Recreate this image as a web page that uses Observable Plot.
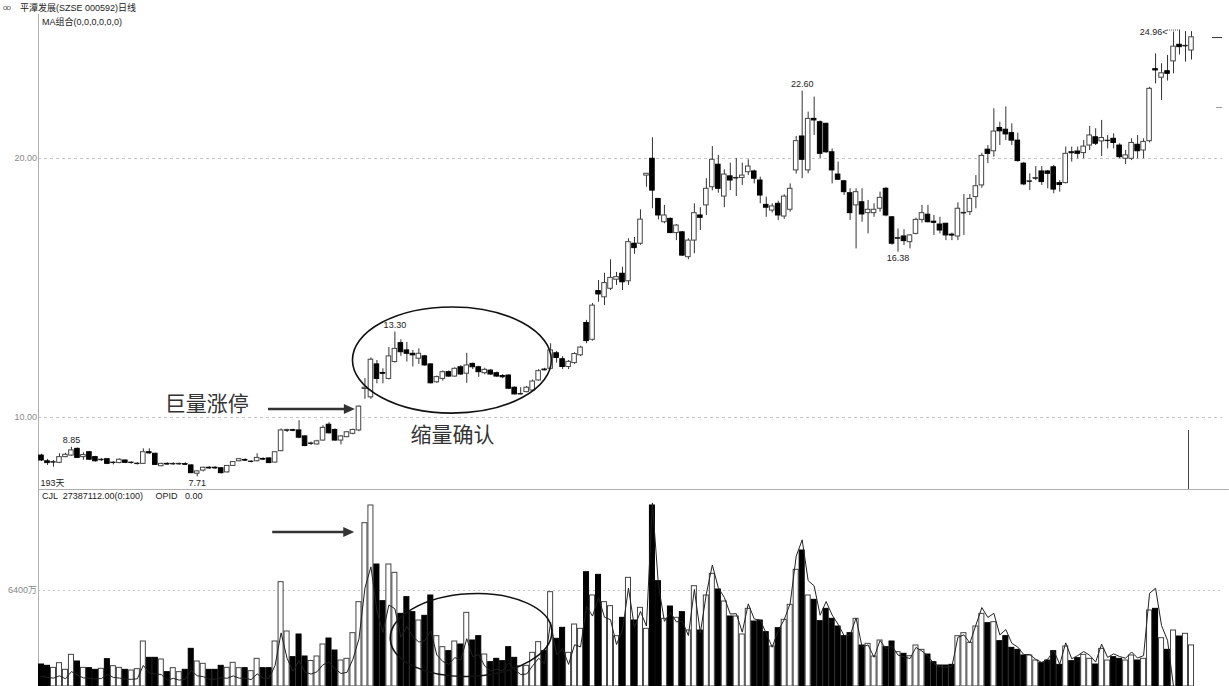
<!DOCTYPE html>
<html>
<head>
<meta charset="utf-8">
<script src="https://cdn.jsdelivr.net/npm/d3@7"></script>
<script src="https://cdn.jsdelivr.net/npm/@observablehq/plot@0.6"></script>
<style>
html,body{margin:0;padding:0;background:#fff;}
#wrap{position:relative;width:1229px;height:686px;overflow:hidden;font-family:"Liberation Sans","Noto Sans CJK SC",sans-serif;}
#wrap > svg{position:absolute;left:0;}
.hd{position:absolute;font-size:9px;color:#222;white-space:pre;line-height:12px;font-family:"Liberation Sans","Noto Sans CJK SC",sans-serif;}
</style>
</head>
<body>
<div id="wrap"></div>
<script>
// ---- data (daily candles, price in yuan, volume in 万股) ----
const open = [8.53,8.31,8.27,8.25,8.47,8.53,8.79,8.47,8.66,8.47,
8.36,8.39,8.25,8.24,8.34,8.25,8.21,8.21,8.66,8.60,
8.12,8.21,8.20,8.20,8.20,8.15,7.83,7.95,8.06,8.06,
8.04,7.88,8.13,8.31,8.36,8.29,8.31,8.40,8.42,8.26,
8.70,9.50,9.51,9.50,9.27,8.99,8.96,9.11,9.72,9.52,
9.11,9.24,9.37,9.50,11.10,10.78,12.05,11.72,11.49,12.14,
12.87,12.59,12.46,12.27,12.36,12.05,11.36,11.49,11.75,11.58,
11.94,11.69,12.07,11.94,11.71,11.81,11.71,11.60,11.62,11.15,
10.90,10.98,11.04,11.43,11.85,11.88,12.48,12.25,11.95,12.10,
12.40,13.65,13.00,14.88,14.64,14.97,15.32,15.55,15.26,16.71,
16.71,19.34,19.99,18.44,17.54,17.67,17.12,17.15,16.19,16.83,
17.80,18.19,18.89,19.76,18.53,19.31,19.24,19.25,19.47,19.50,
19.15,18.21,17.99,18.25,17.76,18.02,19.54,20.85,19.54,21.53,
21.40,21.34,20.24,19.38,19.12,18.66,18.19,18.31,17.89,17.89,
18.06,18.83,17.73,16.90,16.99,16.77,17.09,17.63,17.83,17.56,
17.45,17.48,17.06,16.99,17.89,17.93,18.51,18.96,20.34,20.28,
21.18,21.11,20.98,20.69,19.80,19.11,19.23,19.50,19.50,19.66,
19.05,19.05,20.24,20.27,20.21,20.50,20.82,20.66,20.68,20.76,
20.50,19.99,19.99,20.53,20.31,20.67,23.45,23.12,23.37,23.75,
24.39,24.34,24.17];
const high = [8.58,8.38,8.34,8.60,8.62,8.85,8.82,8.64,8.68,8.50,
8.42,8.40,8.30,8.40,8.36,8.29,8.26,8.79,8.79,8.62,
8.23,8.25,8.25,8.24,8.25,8.17,7.94,8.08,8.10,8.10,
8.06,8.14,8.30,8.42,8.41,8.33,8.60,8.44,8.44,8.68,
9.56,9.55,9.55,9.88,9.30,9.05,9.12,9.68,9.80,9.56,
9.30,9.46,9.55,10.45,11.50,12.30,12.20,11.88,12.70,13.30,
13.00,12.90,12.59,12.65,12.40,12.07,11.60,11.80,11.80,11.92,
12.00,12.48,12.10,11.98,11.90,11.85,11.75,11.66,11.65,11.18,
11.15,11.20,11.45,11.85,11.90,12.85,12.55,12.35,12.20,12.50,
12.75,13.75,14.40,15.29,15.57,16.09,15.60,15.80,16.90,16.95,
18.02,19.41,20.80,18.44,18.19,17.70,17.45,17.18,16.90,18.25,
18.10,19.22,20.46,20.12,19.56,19.82,20.00,19.82,19.95,19.55,
19.28,18.51,18.25,18.35,18.60,19.02,20.85,22.60,21.79,22.37,
21.45,21.36,20.37,19.86,19.15,18.83,18.83,18.83,18.38,18.25,
18.70,18.88,17.75,17.28,17.25,17.05,17.70,18.19,18.19,17.80,
17.73,17.50,17.12,18.29,18.61,18.61,19.34,20.20,20.50,21.92,
21.40,21.99,21.34,20.98,19.85,19.41,19.69,19.69,19.54,19.73,
19.15,20.44,20.44,20.44,20.69,21.24,21.15,21.47,20.89,20.95,
20.57,20.31,20.76,20.89,20.76,22.75,24.04,23.66,23.98,24.88,
24.96,24.90,24.90];
const low = [8.30,8.15,8.08,8.22,8.45,8.50,8.42,8.35,8.35,8.28,
8.30,8.18,8.17,8.22,8.22,8.20,8.17,8.19,8.58,8.15,
8.10,8.17,8.16,8.16,8.15,7.83,7.71,7.90,8.00,8.00,
7.82,7.86,8.11,8.29,8.30,8.25,8.29,8.34,8.22,8.24,
8.68,9.42,9.45,9.18,8.87,8.92,8.94,9.09,9.36,9.08,
8.94,9.22,9.33,9.45,10.70,10.70,11.30,11.30,11.45,12.10,
12.36,12.14,11.95,12.05,11.98,11.30,11.32,11.40,11.55,11.55,
11.62,11.32,11.85,11.55,11.65,11.62,11.55,11.50,11.08,10.87,
10.88,10.95,11.00,11.40,11.80,11.85,12.10,11.85,11.85,12.05,
12.35,12.85,12.95,14.45,14.32,14.90,15.10,14.90,15.10,16.30,
16.65,18.89,18.06,17.63,17.48,17.10,16.83,16.22,16.09,16.32,
17.22,17.80,18.75,18.66,18.10,18.76,18.53,18.96,19.34,19.02,
18.25,17.73,17.90,17.60,17.65,17.93,19.40,19.22,19.41,20.89,
20.00,20.20,19.02,19.15,18.57,17.61,16.51,17.54,17.09,17.73,
17.93,17.75,16.65,16.38,16.64,16.51,17.05,17.51,17.51,17.03,
17.09,16.83,16.83,16.83,17.03,17.80,18.06,18.85,19.80,20.05,
20.50,20.69,20.50,19.86,18.95,18.76,19.15,18.96,18.83,18.64,
18.70,19.02,19.86,19.99,19.99,20.31,20.50,20.08,20.37,20.37,
19.99,19.77,19.92,19.99,19.99,20.60,22.88,22.24,22.99,23.27,
24.00,23.72,23.80];
const close = [8.34,8.24,8.28,8.47,8.56,8.73,8.44,8.55,8.37,8.31,
8.37,8.21,8.26,8.37,8.25,8.26,8.22,8.66,8.63,8.17,
8.21,8.20,8.21,8.21,8.19,7.85,7.92,8.06,8.05,8.05,
7.85,8.13,8.28,8.39,8.35,8.30,8.44,8.39,8.24,8.66,
9.50,9.51,9.50,9.22,8.90,9.00,9.08,9.60,9.39,9.11,
9.27,9.43,9.52,10.42,11.15,12.23,11.49,11.70,12.36,12.65,
12.52,12.46,12.40,12.46,12.01,11.32,11.56,11.75,11.58,11.88,
11.66,12.01,11.94,11.75,11.84,11.66,11.58,11.57,11.11,10.89,
10.91,11.15,11.39,11.79,11.84,12.59,12.30,11.95,12.15,12.45,
12.70,12.95,14.32,14.75,15.19,15.39,15.42,15.22,16.77,16.54,
17.64,19.41,18.76,17.80,17.80,17.12,17.41,16.25,16.83,17.89,
17.71,18.83,19.95,18.83,19.38,19.15,19.25,19.34,19.69,19.22,
18.57,18.10,18.15,17.80,18.53,18.83,20.67,19.95,21.53,21.47,
20.18,20.24,19.54,19.18,18.70,17.89,18.70,17.84,18.02,18.02,
18.48,17.80,16.71,16.93,16.81,17.03,17.63,17.89,17.54,17.53,
17.22,17.03,17.04,18.06,17.90,18.44,18.93,20.10,20.18,21.04,
21.05,20.93,20.69,19.90,19.00,19.12,19.24,19.09,19.41,18.80,
18.98,20.18,20.22,20.18,20.46,20.89,20.57,20.79,20.69,20.60,
20.05,20.12,20.60,20.28,20.64,22.69,23.40,23.29,23.27,24.32,
24.30,24.35,24.68];
const vol = [1467,1378,1244,1556,1111,2111,1667,1244,1222,1111,
1178,1822,1356,1244,1111,1067,1156,3000,1911,1911,
1800,956,1222,956,1111,2511,1667,1511,1111,1111,
1378,1244,1578,1222,1222,1022,1844,1222,1222,3000,
6956,3667,1956,3467,2000,1700,2000,2800,3200,2400,
1733,1844,3556,5622,10889,12067,8133,5689,8133,7578,
4844,5956,4956,4400,4711,6067,3356,2622,2356,3000,
2800,4911,3067,3356,2133,1622,1844,1689,2622,1911,
1356,1378,2244,2956,2356,6289,3178,3911,2244,4133,
3844,7622,6067,7444,5622,5356,3356,4578,7244,4400,
5244,3844,12067,7022,4511,5333,4578,4956,3733,6689,
3733,6067,7511,6467,5667,4667,4667,3467,5178,4333,
4400,3622,2667,3889,4444,5444,7778,9067,6067,5778,
4356,5178,4511,4000,3356,3556,4511,2733,2844,2000,
3067,2622,3000,2289,2178,2022,2733,2444,2133,1622,
1400,1400,1444,3356,3556,2911,4000,4844,4222,4289,
3022,3356,2578,2444,2067,2067,1733,1556,1733,2356,
1444,2667,1689,1889,2111,1844,1467,2511,1733,1956,
1844,1733,2067,1733,1844,5067,5178,3222,2444,3733,
3333,3511,2738.7112];

const priceTicks = [10, 20];
const priceTickLabels = ["10.00", "20.00"];
const volTicks = [6400];
const volTickLabels = ["6400万"];
const extremeLabels = [
  {i: 5, p: 8.85, t: "8.85", pos: "above"},
  {i: 26, p: 7.71, t: "7.71", pos: "below"},
  {i: 59, p: 13.30, t: "13.30", pos: "above"},
  {i: 127, p: 22.60, t: "22.60", pos: "above"},
  {i: 143, p: 16.38, t: "16.38", pos: "below"}
];
const lastHigh = {i: 190, p: 24.96, t: "24.96<"};
const dayCountLabel = "193天";
const noteTexts = [
  {i: 27.6, p: 10.50, t: "巨量涨停"},
  {i: 68.6, p: 9.305, t: "缩量确认"}
];
const priceEllipse = {i: 68.6, y: 12.20, ri: 16.6, ry: 2.05, rot: 0};
const volEllipse = {i: 71.8, y: 3400, ri: 13.5, ry: 2750, rot: -3};
const priceArrow = {i1: 37.9, i2: 52.4, y: 10.31};
const volArrow = {i1: 38.6, i2: 52.3, y: 10267};
const cursorIdx = 191.5;
const amtDiv = 18.5;      // amount line drawn on the volume scale
const amountLast = 188;   // amount line falls to the floor after this day

// ---- build ----
const candles = open.map((o, i) => ({i, o, h: high[i], l: low[i], c: close[i], v: vol[i], up: close[i] >= o}));
const ups = candles.filter(d => d.up), downs = candles.filter(d => !d.up);
const dojis = candles.filter(d => Math.abs(d.o - d.c) < 0.04);
const bh = 0.38, vh = 0.42;
const X = {domain: [0, 192], range: [41, 1191], axis: null};
const font = "Liberation Sans, Noto Sans CJK SC, sans-serif";

const priceChart = Plot.plot({
  width: 1229, height: 490,
  marginLeft: 38, marginRight: 7, marginTop: 14, marginBottom: 1,
  x: X,
  y: {domain: [10, 20], range: [417, 158], axis: null},
  style: {fontFamily: font, fontSize: "9px", background: "transparent", overflow: "visible"},
  marks: [
    Plot.ruleY(priceTicks, {stroke: "#c4c4c4", strokeDasharray: "3,3"}),
    Plot.ruleX([-0.5], {stroke: "#b0b0b0"}),
    Plot.ruleY([7.22], {x1: -0.5, x2: 198.3, stroke: "#b0b0b0"}),
    Plot.text(priceTicks, {x: -0.6, y: d => d, text: (d, k) => priceTickLabels[k], textAnchor: "end", dx: -1, fill: "#888", fontSize: 9}),
    Plot.ruleX(candles, {x: "i", y1: "l", y2: "h", stroke: "#333", strokeWidth: 1}),
    Plot.rect(ups, {x1: d => d.i - bh, x2: d => d.i + bh, y1: "o", y2: "c", fill: "#fff", stroke: "#444", strokeWidth: 1}),
    Plot.rect(downs, {x1: d => d.i - bh, x2: d => d.i + bh, y1: "c", y2: "o", fill: "#000", stroke: "#000", strokeWidth: 1}),
    Plot.ruleY(dojis, {x1: d => d.i - bh, x2: d => d.i + bh, y: "c", stroke: "#111", strokeWidth: 1}),
    Plot.text(extremeLabels.filter(d => d.pos === "above"), {x: "i", y: "p", text: "t", dy: -7, fill: "#222", fontSize: 9}),
    Plot.text(extremeLabels.filter(d => d.pos === "below"), {x: "i", y: "p", text: "t", dy: 6, fill: "#222", fontSize: 9}),
    Plot.text([lastHigh], {x: d => d.i - 2, y: "p", text: "t", textAnchor: "end", dy: 2, fill: "#222", fontSize: 9}),
    Plot.ruleY([lastHigh], {x1: d => d.i - 2, x2: "i", y: "p", stroke: "#555", strokeDasharray: "1,1"}),
    Plot.text([dayCountLabel], {frameAnchor: "bottom-left", text: d => d, textAnchor: "start", lineAnchor: "bottom", dx: 2, dy: -4, fill: "#222", fontSize: 9}),
    Plot.ruleX([cursorIdx], {y1: 9.5, y2: 7.22, stroke: "#444"}),
    Plot.ruleY([24.67], {x1: 195.5, x2: 197.2, stroke: "#333"}),
    Plot.ruleY([21.97], {x1: 196.2, x2: 197.2, stroke: "#999"}),
    Plot.text(noteTexts, {x: "i", y: "p", text: "t", fontSize: 21, fill: "#333", fontFamily: "Noto Sans CJK SC, sans-serif"})
  ]
});

const volChart = Plot.plot({
  width: 1229, height: 196,
  marginLeft: 38, marginRight: 7, marginTop: 0, marginBottom: 0,
  x: X,
  y: {domain: [0, 6400], range: [196, 100], axis: null},
  style: {fontFamily: font, fontSize: "9px", background: "transparent", overflow: "visible"},
  marks: [
    Plot.ruleY(volTicks, {stroke: "#c4c4c4", strokeDasharray: "2,3"}),
    Plot.ruleX([-0.5], {stroke: "#b0b0b0"}),
    Plot.text(volTicks, {x: -0.6, y: d => d, text: (d, k) => volTickLabels[k], textAnchor: "end", dx: -1, fill: "#888", fontSize: 9}),
    Plot.rect(ups, {x1: d => d.i - vh, x2: d => d.i + vh, y1: 0, y2: "v", fill: "#fff", stroke: "#444", strokeWidth: 1}),
    Plot.rect(downs, {x1: d => d.i - vh, x2: d => d.i + vh, y1: 0, y2: "v", fill: "#000", stroke: "#000", strokeWidth: 1}),
    Plot.line(candles, {x: "i", y: d => d.i <= amountLast ? d.v * d.c / amtDiv : 0, stroke: "#222", strokeWidth: 1})
  ]
});

function scaleFn(chart, name) {
  const s = chart.scale(name);
  return s.apply ? (v => s.apply(v)) : d3.scaleLinear(s.domain, s.range);
}
function drawEllipse(chart, e) {
  const sx = scaleFn(chart, "x"), sy = scaleFn(chart, "y");
  const cx = sx(e.i), cy = sy(e.y);
  const rx = Math.abs(sx(e.i + e.ri) - cx), ry = Math.abs(sy(e.y + e.ry) - cy);
  d3.select(chart).append("ellipse")
    .attr("cx", cx).attr("cy", cy).attr("rx", rx).attr("ry", ry)
    .attr("transform", `rotate(${e.rot} ${cx} ${cy})`)
    .attr("fill", "none").attr("stroke", "#111").attr("stroke-width", 1.6);
}
function drawArrow(chart, a) {
  const sx = scaleFn(chart, "x"), sy = scaleFn(chart, "y");
  const x1 = sx(a.i1), x2 = sx(a.i2), y = sy(a.y);
  const g = d3.select(chart).append("g");
  g.append("line").attr("x1", x1).attr("x2", x2 - 8).attr("y1", y).attr("y2", y)
    .attr("stroke", "#333").attr("stroke-width", 2.4);
  g.append("path").attr("d", `M${x2},${y}L${x2 - 11},${y - 5}L${x2 - 11},${y + 5}Z`).attr("fill", "#333");
}
drawEllipse(priceChart, priceEllipse);
drawArrow(priceChart, priceArrow);
drawEllipse(volChart, volEllipse);
drawArrow(volChart, volArrow);

const wrap = document.getElementById("wrap");
priceChart.style.top = "0px";
volChart.style.top = "490px";
wrap.appendChild(priceChart);
wrap.appendChild(volChart);

function header(text, left, top) {
  const d = document.createElement("div");
  d.className = "hd";
  d.style.left = left + "px";
  d.style.top = top + "px";
  d.innerHTML = text;
  wrap.appendChild(d);
}
header('<span style="font-size:8px;color:#555;letter-spacing:-1px">oo</span>', 3, 1);
header('平潭发展(SZSE 000592)日线', 20, 2);
header("MA组合(0,0,0,0,0,0)", 42, 16);
header("CJL  " + (vol[vol.length - 1] * 10000).toFixed(2) + "(0:100)     OPID   0.00", 42, 490);
</script>
</body>
</html>
